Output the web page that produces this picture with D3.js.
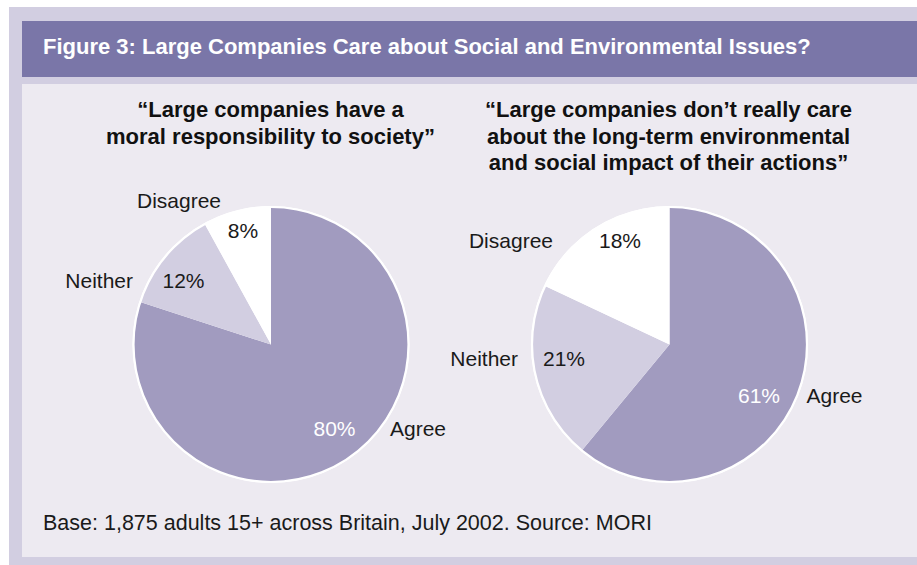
<!DOCTYPE html>
<html>
<head>
<meta charset="utf-8">
<script src="https://cdn.jsdelivr.net/npm/d3@7"></script>
<style>
  html, body { margin: 0; padding: 0; background: #ffffff; }
  svg { display: block; font-family: "Liberation Sans", Arial, Helvetica, sans-serif; }
</style>
</head>
<body>
<svg id="chart" width="917" height="565"></svg>
<script>
// ---- data ----
const categories = ["Agree", "Neither", "Disagree"];
const moralValues = [80, 12, 8];
const careValues = [61, 21, 18];
const chartTitle = "Figure 3: Large Companies Care about Social and Environmental Issues?";
const moralQuestion = ["\u201cLarge companies have a", "moral responsibility to society\u201d"];
const careQuestion = ["\u201cLarge companies don\u2019t really care", "about the long-term environmental", "and social impact of their actions\u201d"];
const sourceNote = "Base: 1,875 adults 15+ across Britain, July 2002. Source: MORI";

// ---- styling / layout ----
const colors = { Agree: "#a19bbf", Neither: "#d2cee1", Disagree: "#ffffff" };
const valueColors = { Agree: "#ffffff", Neither: "#1a1a1a", Disagree: "#1a1a1a" };
const radius = 137.5;
const labelSize = 21;

const pies = [
  { values: moralValues, question: moralQuestion, cx: 271, cy: 344.5, qx: 270.5,
    labels: {
      Agree:    { v: [63.5, 83.5],   c: [119, 83.5],   anchor: "start" },
      Neither:  { v: [-87.5, -64.5], c: [-138, -64.5], anchor: "end" },
      Disagree: { v: [-28, -114.5],  c: [-92, -144.5], anchor: "middle" }
    } },
  { values: careValues, question: careQuestion, cx: 669.5, cy: 344.5, qx: 668.5,
    labels: {
      Agree:    { v: [89.5, 50.5],   c: [137, 50.5],    anchor: "start" },
      Neither:  { v: [-105.5, 13.5], c: [-151.5, 13.5], anchor: "end" },
      Disagree: { v: [-49.5, -104.5], c: [-116.5, -104.5], anchor: "end" }
    } }
];

const svg = d3.select("#chart");

// frame
svg.append("rect").attr("x", 9).attr("y", 7).attr("width", 908).attr("height", 558).attr("fill", "#d2cee1");
svg.append("rect").attr("x", 22).attr("y", 21).attr("width", 895).attr("height", 56).attr("fill", "#7a76a8");
svg.append("rect").attr("x", 22).attr("y", 84).attr("width", 895).attr("height", 473).attr("fill", "#edeaf1");

svg.append("text")
  .attr("x", 43).attr("y", 53.5)
  .attr("fill", "#ffffff")
  .attr("font-weight", "bold")
  .attr("font-size", 22)
  .text(chartTitle);

const pieGen = d3.pie().sort(null).value(d => d.value);
const arcGen = d3.arc().innerRadius(0).outerRadius(radius);

pies.forEach(p => {
  const data = categories.map((c, i) => ({ category: c, value: p.values[i] }));
  const arcs = pieGen(data);

  // question
  svg.append("text")
    .attr("x", p.qx).attr("y", 117)
    .attr("text-anchor", "middle")
    .attr("font-weight", "bold")
    .attr("font-size", 22)
    .attr("fill", "#111111")
    .selectAll("tspan")
    .data(p.question)
    .join("tspan")
    .attr("x", p.qx)
    .attr("dy", (d, i) => i === 0 ? 0 : 26.5)
    .text(d => d);

  const g = svg.append("g").attr("transform", `translate(${p.cx},${p.cy})`);
  g.append("circle").attr("r", radius + 1).attr("fill", "#ffffff");
  g.selectAll("path.slice")
    .data(arcs)
    .join("path")
    .attr("class", "slice")
    .attr("d", arcGen)
    .attr("fill", d => colors[d.data.category]);
  g.append("circle").attr("r", radius).attr("fill", "none").attr("stroke", "#ffffff").attr("stroke-width", 2.2);

  // value labels
  g.selectAll("text.val")
    .data(arcs)
    .join("text")
    .attr("class", "val")
    .attr("x", d => p.labels[d.data.category].v[0])
    .attr("y", d => p.labels[d.data.category].v[1] + labelSize * 0.36)
    .attr("text-anchor", "middle")
    .attr("font-size", labelSize)
    .attr("fill", d => valueColors[d.data.category])
    .text(d => d.data.value + "%");

  // category labels
  g.selectAll("text.cat")
    .data(arcs)
    .join("text")
    .attr("class", "cat")
    .attr("x", d => p.labels[d.data.category].c[0])
    .attr("y", d => p.labels[d.data.category].c[1] + labelSize * 0.36)
    .attr("text-anchor", d => p.labels[d.data.category].anchor)
    .attr("font-size", labelSize)
    .attr("fill", "#1a1a1a")
    .text(d => d.data.category);
});

svg.append("text")
  .attr("x", 43).attr("y", 530)
  .attr("font-size", 21.5)
  .attr("fill", "#1a1a1a")
  .text(sourceNote);
</script>
</body>
</html>
